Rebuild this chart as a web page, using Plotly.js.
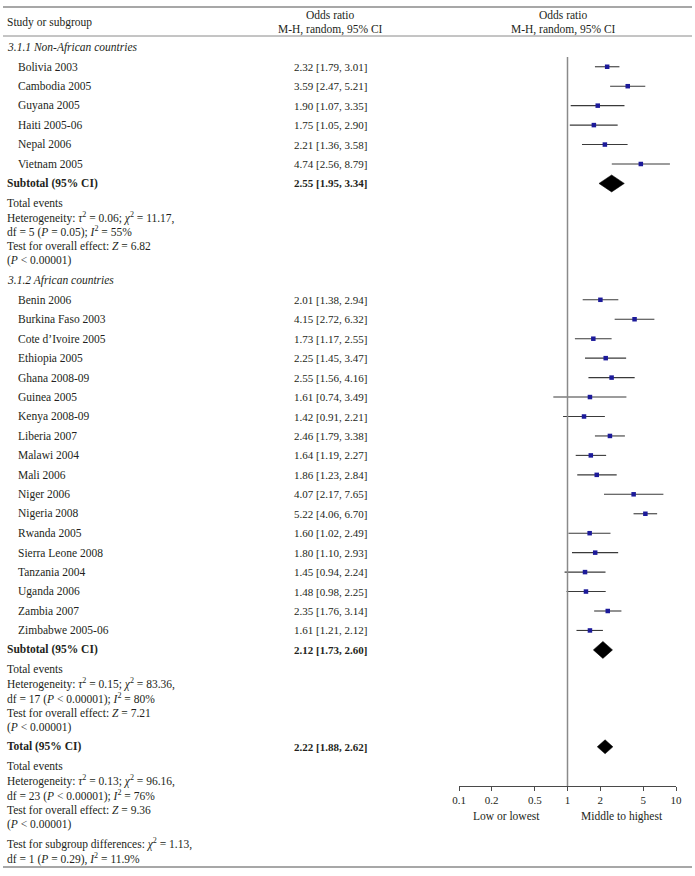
<!DOCTYPE html>
<html>
<head>
<meta charset="utf-8">
<script src="https://cdn.plot.ly/plotly-3.0.1.min.js"></script>
<style>html,body{margin:0;padding:0;background:#fff;}</style>
</head>
<body>
<div id="graficPlotly" style="width:695px;height:876px;"></div>
<script>
//DADES DEL FOREST PLOT (llegides de la imatge)
var grupNoms = ['3.1.1 Non-African countries', '3.1.2 African countries'];

var estudisNoAfrica = ['Bolivia 2003', 'Cambodia 2005', 'Guyana 2005', 'Haiti 2005-06', 'Nepal 2006', 'Vietnam 2005'];
var orNoAfrica   = [2.32, 3.59, 1.90, 1.75, 2.21, 4.74];
var baixNoAfrica = [1.79, 2.47, 1.07, 1.05, 1.36, 2.56];
var altNoAfrica  = [3.01, 5.21, 3.35, 2.90, 3.58, 8.79];

var estudisAfrica = ['Benin 2006', 'Burkina Faso 2003', 'Cote d\u2019Ivoire 2005', 'Ethiopia 2005', 'Ghana 2008-09',
    'Guinea 2005', 'Kenya 2008-09', 'Liberia 2007', 'Malawi 2004', 'Mali 2006', 'Niger 2006', 'Nigeria 2008',
    'Rwanda 2005', 'Sierra Leone 2008', 'Tanzania 2004', 'Uganda 2006', 'Zambia 2007', 'Zimbabwe 2005-06'];
var orAfrica   = [2.01, 4.15, 1.73, 2.25, 2.55, 1.61, 1.42, 2.46, 1.64, 1.86, 4.07, 5.22, 1.60, 1.80, 1.45, 1.48, 2.35, 1.61];
var baixAfrica = [1.38, 2.72, 1.17, 1.45, 1.56, 0.74, 0.91, 1.79, 1.19, 1.23, 2.17, 4.06, 1.02, 1.10, 0.94, 0.98, 1.76, 1.21];
var altAfrica  = [2.94, 6.32, 2.55, 3.47, 4.16, 3.49, 2.21, 3.38, 2.27, 2.84, 7.65, 6.70, 2.49, 2.93, 2.24, 2.25, 3.14, 2.12];

var subtotalOR   = [2.55, 2.12];
var subtotalBaix = [1.95, 1.73];
var subtotalAlt  = [3.34, 2.60];

var totalOR = 2.22;
var totalBaix = 1.88;
var totalAlt = 2.62;

var textosSubgrup = [
    ['Total events',
     'Heterogeneity: <i>\u03c4</i><sup>2</sup> = 0.06; <i>\u03c7</i><sup>2</sup> = 11.17,',
     'df = 5 (<i>P</i> = 0.05); <i>I</i><sup>2</sup> = 55%',
     'Test for overall effect: <i>Z</i> = 6.82',
     '(<i>P</i> < 0.00001)'],
    ['Total events',
     'Heterogeneity: <i>\u03c4</i><sup>2</sup> = 0.15; <i>\u03c7</i><sup>2</sup> = 83.36,',
     'df = 17 (<i>P</i> < 0.00001); <i>I</i><sup>2</sup> = 80%',
     'Test for overall effect: <i>Z</i> = 7.21',
     '(<i>P</i> < 0.00001)']
];
var textosTotal = ['Total events',
    'Heterogeneity: <i>\u03c4</i><sup>2</sup> = 0.13; <i>\u03c7</i><sup>2</sup> = 96.16,',
    'df = 23 (<i>P</i> < 0.00001); <i>I</i><sup>2</sup> = 76%',
    'Test for overall effect: <i>Z</i> = 9.36',
    '(<i>P</i> < 0.00001)'];
var textosDiferencies = ['Test for subgroup differences: <i>\u03c7</i><sup>2</sup> = 1.13,',
    'df = 1 (<i>P</i> = 0.29), <i>I</i><sup>2</sup> = 11.9%'];

var tickVals = [0.1, 0.2, 0.5, 1, 2, 5, 10];
var tickLabels = ['0.1', '0.2', '0.5', '1', '2', '5', '10'];
var etiquetesEix = ['Low or lowest', 'Middle to highest'];


//MIDES DE LA PAGINA (eix y en pixels, de dalt a baix)
var W = 695, H = 876;
var FONT = 'Liberation Serif, Times New Roman, serif';
var MIDA = 11.5;        //text de les etiquetes
var MIDA_NUM = 11;      //columna de valors i ticks
var PAS_FILA = 19.45;   //distancia entre files d'estudis
var PAS_LINIA = 14.5;   //distancia entre linies de text petit
var X_NOM = 5, X_ESTUDI = 16, X_VALOR = 330, X_CAPSAL_DRET = 563;
var COLOR_TEXT = '#231f20';

function px(x) { return x / W; }
function fmt(v) { return v.toFixed(2); }
function textCI(o, l, h) { return fmt(o) + ' [' + fmt(l) + ', ' + fmt(h) + ']'; }

var anotacions = [];
function posaText(text, x, y, opcions) {
    opcions = opcions || {};
    anotacions.push({text: text, x: px(x), y: y, xref: 'paper', yref: 'y',
        xanchor: opcions.anchor || 'left', yanchor: 'middle', showarrow: false,
        font: {family: FONT, size: opcions.mida || MIDA, color: COLOR_TEXT,
               weight: opcions.negreta ? 'bold' : 'normal', style: opcions.cursiva ? 'italic' : 'normal'}});
}

//CAPSAL
posaText('Study or subgroup', X_NOM, 22);
posaText('Odds ratio', X_VALOR, 15, {anchor: 'center'});
posaText('M-H, random, 95% CI', X_VALOR, 29, {anchor: 'center'});
posaText('Odds ratio', X_CAPSAL_DRET, 15, {anchor: 'center'});
posaText('M-H, random, 95% CI', X_CAPSAL_DRET, 29, {anchor: 'center'});

//FILES
var grups = [
    {noms: estudisNoAfrica, or: orNoAfrica, baix: baixNoAfrica, alt: altNoAfrica},
    {noms: estudisAfrica, or: orAfrica, baix: baixAfrica, alt: altAfrica}
];

var ptsX = [], ptsY = [], errMes = [], errMenys = [];
var diamants = [];
var y = 47.3;
for (var g = 0; g < grups.length; ++g) {
    posaText(grupNoms[g], X_NOM, y, {cursiva: true});
    var gr = grups[g];
    for (var k = 0; k < gr.noms.length; ++k) {
        y += PAS_FILA;
        posaText(gr.noms[k], X_ESTUDI, y);
        posaText(textCI(gr.or[k], gr.baix[k], gr.alt[k]), X_VALOR, y, {anchor: 'center', mida: MIDA_NUM});
        ptsX.push(gr.or[k]);
        ptsY.push(y);
        errMes.push(gr.alt[k] - gr.or[k]);
        errMenys.push(gr.or[k] - gr.baix[k]);
    }
    y += PAS_FILA;
    posaText('Subtotal (95% CI)', X_NOM, y, {negreta: true});
    posaText(textCI(subtotalOR[g], subtotalBaix[g], subtotalAlt[g]), X_VALOR, y, {anchor: 'center', negreta: true, mida: MIDA_NUM});
    diamants.push({o: subtotalOR[g], l: subtotalBaix[g], h: subtotalAlt[g], y: y, mig: 8.5});
    y += PAS_FILA;
    for (var t = 0; t < textosSubgrup[g].length; ++t) {
        if (t > 0) y += PAS_LINIA;
        posaText(textosSubgrup[g][t], X_NOM, y);
    }
    y += PAS_FILA;
}
//TOTAL (la y ja esta a la fila seguent)
posaText('Total (95% CI)', X_NOM, y, {negreta: true});
posaText(textCI(totalOR, totalBaix, totalAlt), X_VALOR, y, {anchor: 'center', negreta: true, mida: MIDA_NUM});
diamants.push({o: totalOR, l: totalBaix, h: totalAlt, y: y, mig: 7});
y += PAS_FILA;
for (var t = 0; t < textosTotal.length; ++t) {
    if (t > 0) y += PAS_LINIA;
    posaText(textosTotal[t], X_NOM, y);
}
y += PAS_FILA;
posaText(textosDiferencies[0], X_NOM, y);
y += PAS_LINIA;
posaText(textosDiferencies[1], X_NOM, y);

//ETIQUETES SOTA L'EIX
posaText(etiquetesEix[0], 507, 816, {anchor: 'center'});
posaText(etiquetesEix[1], 622, 816, {anchor: 'center'});

//TRACES
var traces = [];
traces.push({x: ptsX, y: ptsY, type: 'scatter', mode: 'markers', hoverinfo: 'skip',
    marker: {symbol: 'square', size: 4.5, color: '#1c1a9a'},
    error_x: {type: 'data', symmetric: false, array: errMes, arrayminus: errMenys, width: 0, thickness: 1.1, color: '#3a3a3a'}});
for (var d = 0; d < diamants.length; ++d) {
    var dm = diamants[d];
    traces.push({x: [dm.l, dm.o, dm.h, dm.o, dm.l], y: [dm.y, dm.y - dm.mig, dm.y, dm.y + dm.mig, dm.y],
        type: 'scatter', mode: 'lines', fill: 'toself', fillcolor: '#000', line: {color: '#000', width: 0.5}, hoverinfo: 'skip'});
}

var linia = {color: '#8a8a8a', width: 1.5};
var layout = {
    width: W, height: H,
    margin: {l: 0, r: 0, t: 0, b: 0},
    paper_bgcolor: '#fff', plot_bgcolor: 'rgba(0,0,0,0)',
    showlegend: false,
    xaxis: {type: 'log', range: [-1, 1], domain: [459 / W, 676 / W], anchor: 'free', position: (H - 786) / H,
        showline: true, linecolor: '#4a4a4a', linewidth: 1, ticks: 'outside', ticklen: 4, tickcolor: '#4a4a4a',
        tickvals: tickVals, ticktext: tickLabels, showgrid: false, zeroline: false,
        tickfont: {family: FONT, size: MIDA_NUM, color: COLOR_TEXT}, fixedrange: true},
    yaxis: {range: [H, 0], domain: [0, 1], visible: false, fixedrange: true},
    shapes: [
        {type: 'line', xref: 'x', yref: 'y', x0: 1, x1: 1, y0: 57, y1: 786, line: {color: '#8a8a8a', width: 1.5}},
        {type: 'line', xref: 'paper', yref: 'y', x0: px(3), x1: px(692), y0: 7, y1: 7, line: linia},
        {type: 'line', xref: 'paper', yref: 'y', x0: px(3), x1: px(692), y0: 36, y1: 36, line: {color: '#8a8a8a', width: 1}},
        {type: 'line', xref: 'paper', yref: 'y', x0: px(3), x1: px(692), y0: 867, y1: 867, line: linia}
    ],
    annotations: anotacions
};

Plotly.newPlot('graficPlotly', traces, layout, {displayModeBar: false, staticPlot: true});
</script>
</body>
</html>
